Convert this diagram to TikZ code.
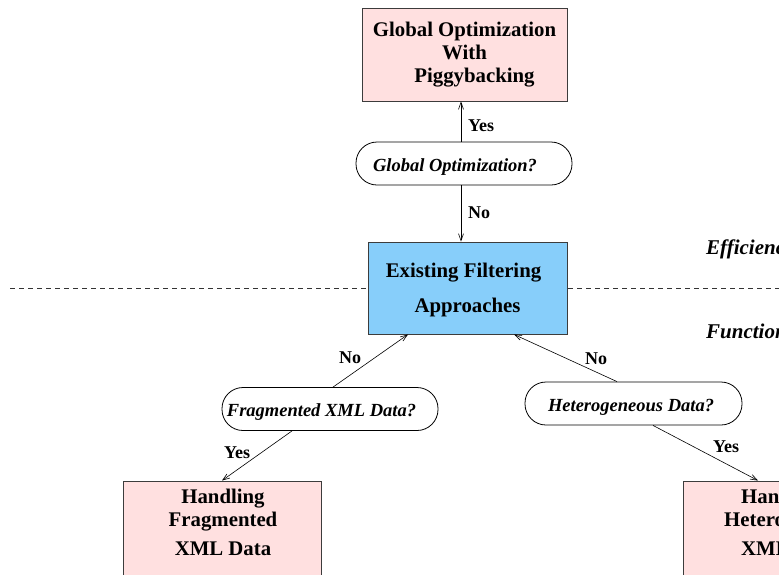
\documentclass[tikz,border=0pt]{standalone}
\usepackage{fontspec}
\setmainfont{Liberation Serif}[Ligatures={TeX,NoCommon}]
\usetikzlibrary{arrows.meta}

\definecolor{boxpink}{RGB}{255,224,224}
\definecolor{boxblue}{RGB}{135,206,250}
\definecolor{boxedge}{RGB}{60,60,60}

\tikzset{
  x=1pt, y=-1pt,
  taskbox/.style={draw=boxedge, line width=0.9pt, fill=boxpink, inner sep=0pt},
  corebox/.style={draw=boxedge, line width=0.9pt, fill=boxblue, inner sep=0pt},
  boxtext/.style={inner sep=0pt, align=center, font=\fontsize{20.8}{23}\selectfont\bfseries},
  question/.style={draw, line width=0.8pt, rounded corners=21pt, inner sep=0pt,
    minimum height=43pt, text height=15pt, text depth=0pt,
    font=\fontsize{18.5}{22}\selectfont\bfseries\itshape},
  answer/.style={inner sep=0pt, anchor=base west, font=\fontsize{18}{20}\selectfont\bfseries},
  layer/.style={inner sep=0pt, anchor=base west, font=\fontsize{21}{24}\selectfont\bfseries\itshape},
  arr/.style={-{Straight Barb[length=7pt,width=5pt]}, line width=0.6pt},
  divider/.style={dash pattern=on 5pt off 4pt, line width=0.7pt, draw=black!80}
}

\begin{document}
\begin{tikzpicture}
\useasboundingbox (0,0) rectangle (779,574);
\clip (0,0) rectangle (779,574);

% layer divider (drawn first so the central box covers it)
\coordinate (divL) at (10,288);
\coordinate (divR) at (790,288);
\draw[divider] (divL) -- (divR);

% boxes
\node[taskbox, minimum width=205pt, minimum height=93pt, boxtext] (glob) at (464.5,54.5)
  {Global Optimization\\With\\\hspace*{20pt}Piggybacking};
\node[corebox, minimum width=199pt, minimum height=92pt] (core) at (467.5,288) {};
\node[boxtext, anchor=north, font=\fontsize{20.8}{35}\selectfont\bfseries] (coretxt)
  at (467.5,263) {Existing Filtering\hspace*{8pt}\\Approaches};

\node[taskbox, minimum width=198pt, minimum height=100pt] (hfrag) at (222,531) {};
\node[boxtext, anchor=north] (hfragtxt) at (223,489)
  {Handling\\Fragmented\\[6pt]XML Data};
\node[taskbox, minimum width=198pt, minimum height=100pt] (hhet) at (782,531) {};
\node[boxtext, align=left, anchor=north west] (hhettxt) at (724,489)
  {\hspace*{17pt}Handling\\Heterogeneous\\[6pt]\hspace*{17pt}XML Data};

% questions
\node[question, minimum width=216pt] (qglob) at (464,163.5)
  {Global Optimization?\hspace*{18pt}};
\node[question, minimum width=216pt] (qfrag) at (330,409)
  {Fragmented XML Data?\hspace*{17pt}};
\node[question, minimum width=217pt] (qhet) at (633.5,403.5)
  {Heterogeneous Data?\hspace*{5pt}};

% connectors
\coordinate (vx) at (461,0);
\draw[arr] (qglob.north -| vx) -- (glob.south -| vx);
\draw[arr] (qglob.south -| vx) -- (core.north -| vx);
\draw[arr] ([xshift=3pt]qfrag.north) -- ([xshift=-59.5pt]core.south);
\draw[arr] ([xshift=-16.5pt]qhet.north) -- ([xshift=46.5pt]core.south);
\draw[arr] ([xshift=-38pt]qfrag.south) -- (hfrag.north);
\draw[arr] ([xshift=19.5pt]qhet.south) -- ([xshift=-24pt]hhet.north);

% answers
\node[answer] (yglob) at (468,131) {Yes};
\node[answer] (nglob) at (468,218) {No};
\node[answer] (nfrag) at (339,363) {No};
\node[answer] (yfrag) at (224,458) {Yes};
\node[answer] (nhet) at (585,364) {No};
\node[answer] (yhet) at (713,452) {Yes};

% layer names
\node[layer] (eff) at (706,254) {Efficiency};
\node[layer] (fun) at (706,338) {Functionality};
\end{tikzpicture}
\end{document}
